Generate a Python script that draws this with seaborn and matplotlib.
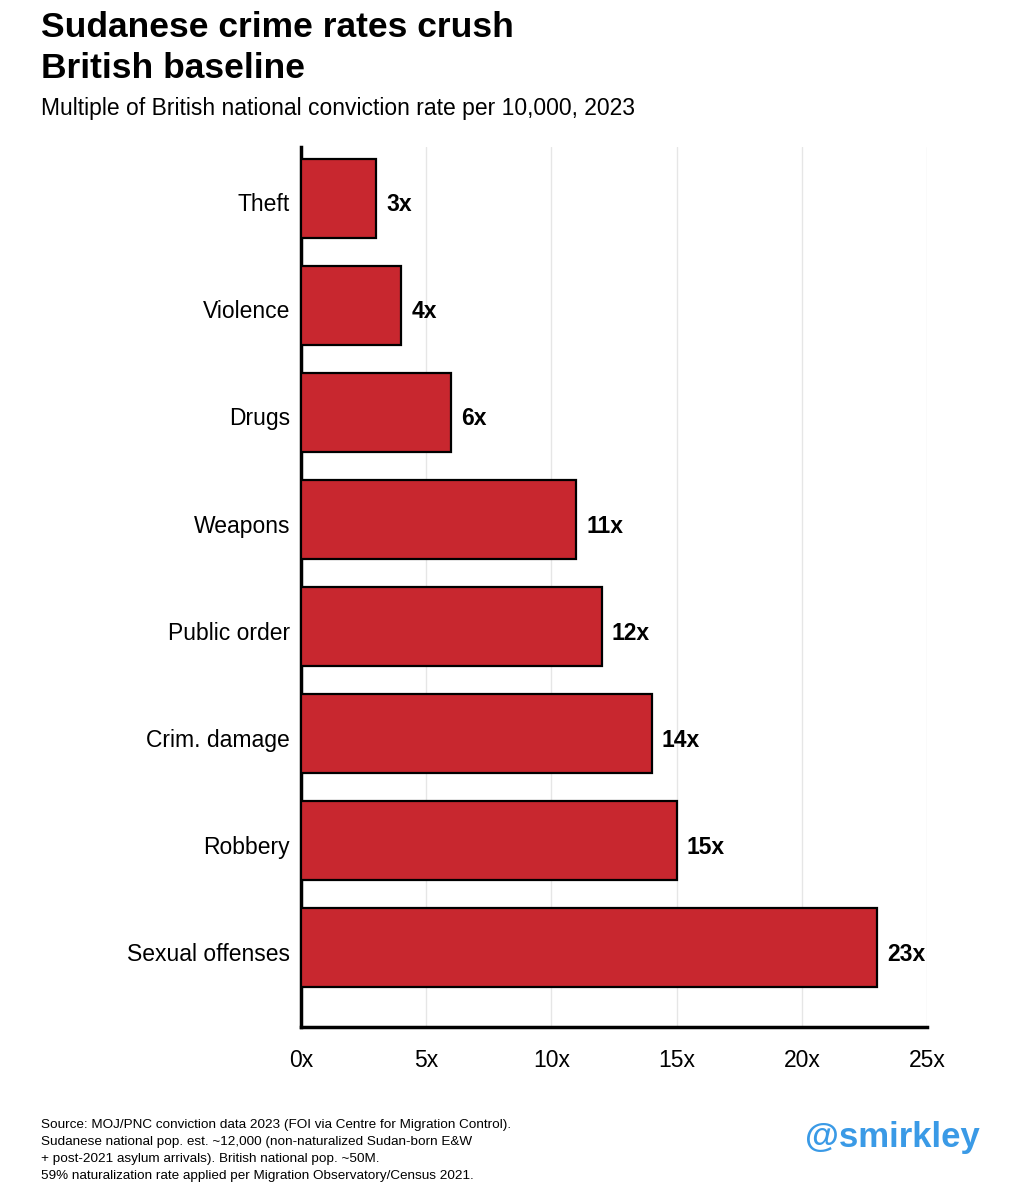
import numpy as np
import pandas as pd
import matplotlib
matplotlib.use('Agg')
import matplotlib.pyplot as plt
import matplotlib.transforms as mtransforms
import seaborn as sns

# data
categories = ['Theft', 'Violence', 'Drugs', 'Weapons', 'Public order',
              'Crim. damage', 'Robbery', 'Sexual offenses']
multiples = [3, 4, 6, 11, 12, 14, 15, 23]
xticks = [0, 5, 10, 15, 20, 25]
xtick_labels = ['0x', '5x', '10x', '15x', '20x', '25x']

title = 'Sudanese crime rates crush\nBritish baseline'
subtitle = 'Multiple of British national conviction rate per 10,000, 2023'
source = ('Source: MOJ/PNC conviction data 2023 (FOI via Centre for Migration Control).\n'
          'Sudanese national pop. est. ~12,000 (non-naturalized Sudan-born E&W\n'
          '+ post-2021 asylum arrivals). British national pop. ~50M.\n'
          '59% naturalization rate applied per Migration Observatory/Census 2021.')
handle = '@smirkley'

df = pd.DataFrame({'category': categories, 'multiple': multiples})

sns.set_style('white')
plt.rcParams['font.family'] = ['Liberation Sans', 'DejaVu Sans']
plt.rcParams['text.color'] = 'black'
plt.rcParams['xtick.color'] = 'black'
plt.rcParams['ytick.color'] = 'black'

fig = plt.figure(figsize=(10.32, 12), dpi=100)
ax = fig.add_axes([0.2917, 0.1442, 0.6066, 0.7333])

sns.barplot(data=df, x='multiple', y='category', orient='h', color='#c8272f',
            saturation=1, width=0.74, edgecolor='black', linewidth=1.6, ax=ax, zorder=3)

ax.set_xlim(0, 25)
ax.set_ylim(7.74, -0.48)
ax.set_xticks(xticks)
ax.set_xticklabels(xtick_labels, fontsize=16.5)
ax.tick_params(axis='y', labelsize=16.5, length=0, pad=8)
ax.tick_params(axis='x', length=0, pad=16)

# nudge labels a few pixels down, like the original
shift = mtransforms.ScaledTranslation(0, -4 / 100, fig.dpi_scale_trans)
for lab in ax.get_yticklabels():
    lab.set_va('center_baseline')
    lab.set_transform(lab.get_transform() + shift)
ax.set_xlabel('')
ax.set_ylabel('')
ax.grid(axis='x', color='#e6e6e6', linewidth=1, zorder=0)

for s in ['top', 'right']:
    ax.spines[s].set_visible(False)
for s in ['left', 'bottom']:
    ax.spines[s].set_color('black')
    ax.spines[s].set_linewidth(2.5)

# value labels
for i, v in enumerate(multiples):
    ax.text(v + 0.4, i, f'{v}x', va='center_baseline', ha='left', fontsize=16.5,
            fontweight='bold', color='black', transform=ax.transData + shift)

fig.text(41 / 1032, 1 - 11 / 1200, title, ha='left', va='top', fontsize=25.5,
         fontweight='bold', linespacing=1.3)
fig.text(41 / 1032, 1 - 108 / 1200, subtitle, ha='left', va='center', fontsize=16.5)
fig.text(41 / 1032, 1 - 1119 / 1200, source, ha='left', va='top', fontsize=9.7,
         linespacing=1.55)
fig.text(980 / 1032, 1 - 1137 / 1200, handle, ha='right', va='center', fontsize=25,
         fontweight='bold', color='#3a9ae6')

fig.savefig('out.png', dpi=100)
